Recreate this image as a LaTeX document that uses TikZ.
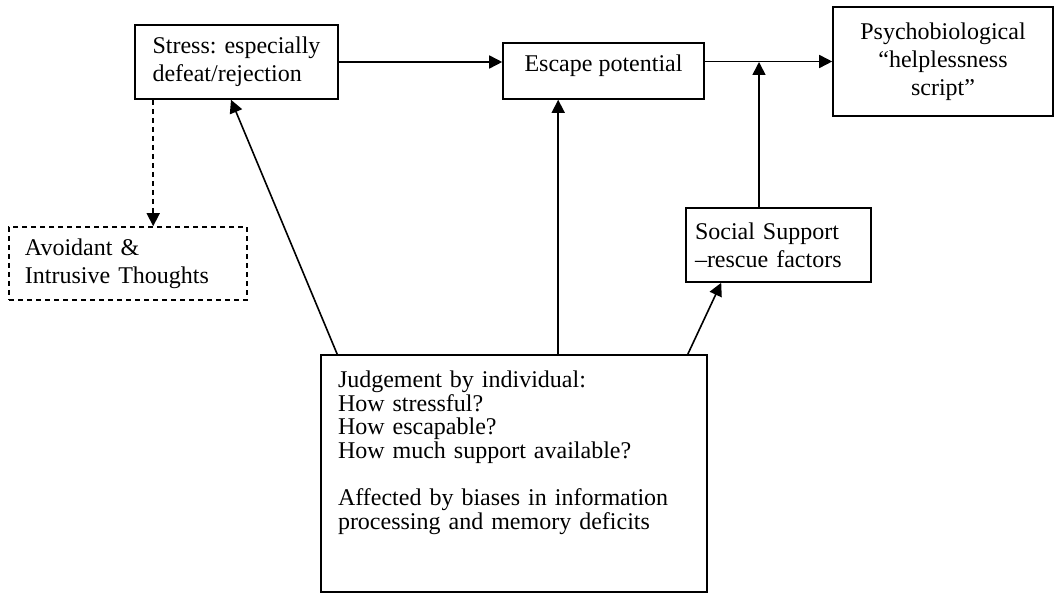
\documentclass[tikz,border=0pt]{standalone}
\usepackage{fontspec}
\setmainfont{Liberation Serif}
\usepackage{tikz}
\usetikzlibrary{arrows.meta}

\begin{document}
\begin{tikzpicture}[x=0.5pt,y=-0.5pt,line width=0.8pt,
	>={Triangle[length=6.5pt,width=6.5pt]},
	box/.style={draw,inner sep=0pt,font=\fontsize{12}{14}\selectfont},
	dashbox/.style={box,dash pattern=on 2.5pt off 2pt}]
	\useasboundingbox (0,0) rectangle (1055,593);
	\node[box,minimum width=101.5pt,minimum height=37pt,align=left] (stress) at (236.5,62) {Stress: especially\\defeat/rejection};
	\node[box,minimum width=100.5pt,minimum height=28pt,text depth=7.6pt] (escape) at (603.5,71) {Escape potential};
	\node[box,minimum width=110pt,minimum height=54.5pt,align=center] (psycho) at (943,61.5) {Psychobiological\\“helplessness\\script”};
	\node[dashbox,text width=103pt,inner xsep=8pt,minimum height=36.5pt,align=left] (avoid) at (128,263.5) {Avoidant \&\\Intrusive Thoughts};
	\node[box,text width=83.5pt,inner xsep=4.5pt,minimum height=37pt,align=left] (social) at (778.5,245) {Social Support\\–rescue factors};
	\node[box,text width=176pt,inner xsep=8.5pt,inner ysep=8pt,text height=8.2pt,text depth=94.3pt,align=left,
		font=\fontsize{12}{11.8}\selectfont] (judge) at (514,473.5) {Judgement by individual:\\How stressful?\\How escapable?\\How much support available?\\[11.8pt]Affected by biases in information\\processing and memory deficits};
	\coordinate (join) at (759,62);

	\draw[->] (stress.east) -- (stress.east -| escape.west);
	\draw[->] (escape.east |- psycho.west) -- (psycho.west);
	\draw[->] (social.north -| join) -- (join);
	\draw[->,dash pattern=on 2.5pt off 2pt] ([xshift=9.5pt]stress.south west) -- ([xshift=9.5pt]stress.south west |- avoid.north);
	\draw[->] ([xshift=8.5pt]judge.north west) -- ([xshift=-2.75pt]stress.south);
	\draw[->] ([xshift=28pt]escape.south west |- judge.north) -- ([xshift=28pt]escape.south west);
	\draw[->] ([xshift=-10pt]judge.north east) -- ([xshift=18pt]social.south west);
\end{tikzpicture}
\end{document}
